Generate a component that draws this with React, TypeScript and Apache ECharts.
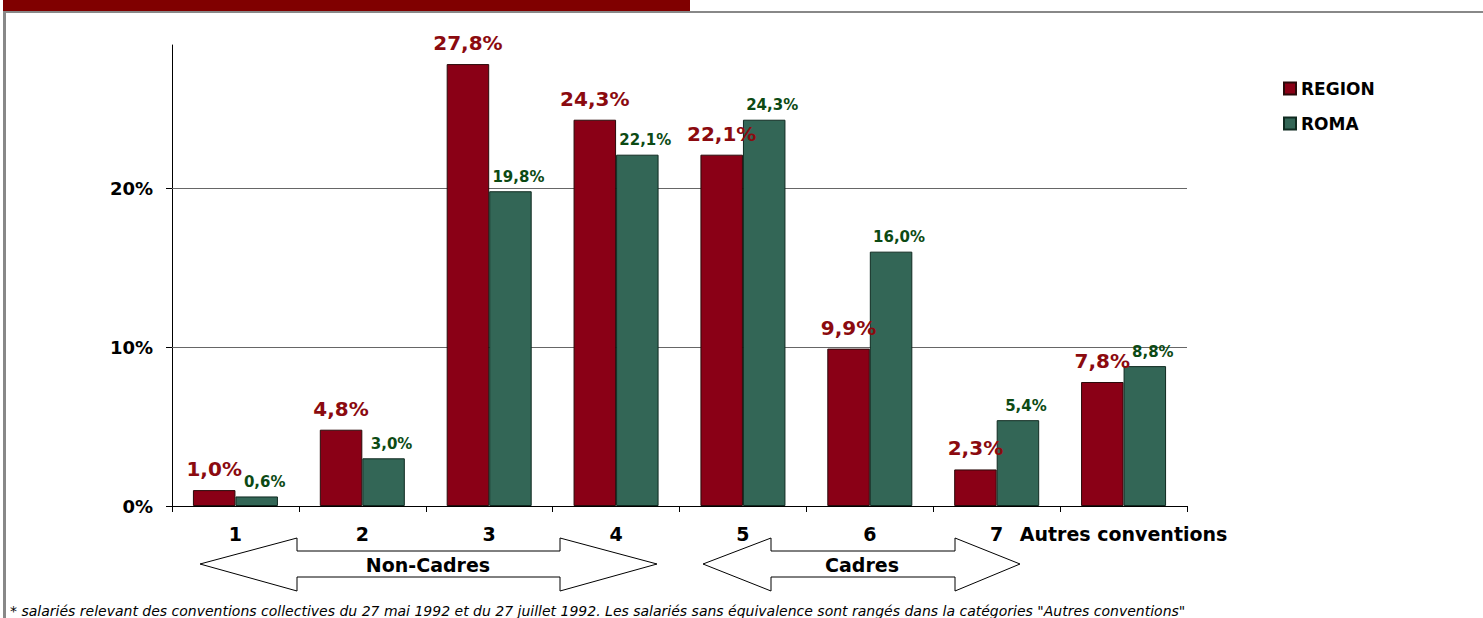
import React, { useEffect, useRef } from "react";
import * as echarts from "echarts";

const categories = ["1", "2", "3", "4", "5", "6", "7", "Autres conventions"];
const regionValues = [1.0, 4.8, 27.8, 24.3, 22.1, 9.9, 2.3, 7.8];
const romaValues = [0.6, 3.0, 19.8, 22.1, 24.3, 16.0, 5.4, 8.8];
const yTicks = [0, 10, 20];
const gridValues = [10, 20];
const footnote =
  '* salariés relevant des conventions collectives du 27 mai 1992 et du 27 juillet 1992. Les salariés sans équivalence sont rangés dans la catégories "Autres conventions"';

const FONT = "DejaVu Sans";
const fmt = (v: number) => v.toFixed(1).replace(".", ",") + "%";

function arrow(x1: number, h1: number, h2: number, x2: number, cy: number) {
  const ht = cy - 26, st = cy - 13, sb = cy + 13, hb = cy + 27;
  return [
    [x1, cy], [h1, ht], [h1, st], [h2, st], [h2, ht],
    [x2, cy], [h2, hb], [h2, sb], [h1, sb], [h1, hb],
  ];
}

export default function App() {
  const ref = useRef<HTMLDivElement>(null);
  useEffect(() => {
    const chart = echarts.init(ref.current!, null, { renderer: "svg" });
    chart.setOption({
      animation: false,
      backgroundColor: "#ffffff",
      textStyle: { fontFamily: FONT },
      grid: { left: 172, right: 296, top: 45, bottom: 112 },
      legend: {
        orient: "vertical",
        left: 1278,
        top: 75,
        itemWidth: 12,
        itemHeight: 12,
        itemGap: 18,
        icon: "rect",
        textStyle: { fontFamily: FONT, fontSize: 17, fontWeight: "bold", color: "#000" },
        data: ["REGION", "ROMA"],
      },
      xAxis: {
        type: "category",
        data: categories,
        axisLine: { lineStyle: { color: "#000", width: 1 } },
        axisTick: { show: true, length: 6, lineStyle: { color: "#000" } },
        axisLabel: {
          fontFamily: FONT,
          fontSize: 19,
          fontWeight: "bold",
          color: "#000",
          margin: 18,
          interval: 0,
        },
      },
      yAxis: {
        type: "value",
        min: 0,
        max: 29,
        interval: 10,
        axisLine: { show: true, lineStyle: { color: "#000", width: 1 } },
        axisTick: { show: true, length: 6, customValues: yTicks, lineStyle: { color: "#000" } },
        splitLine: { show: false },
        axisLabel: {
          customValues: yTicks,
          fontFamily: FONT,
          fontSize: 18,
          fontWeight: "bold",
          color: "#000",
          margin: 19,
          formatter: (v: number) => (v % 10 === 0 ? v + "%" : ""),
        },
      },
      series: [
        {
          name: "REGION",
          type: "bar",
          data: regionValues,
          barGap: "0%",
          barCategoryGap: "33%",
          z: 2,
          itemStyle: { color: "#8a0016", borderColor: "#2a0a0a", borderWidth: 1 },
          label: {
            show: true,
            position: "top",
            distance: 11,
            fontFamily: FONT,
            fontSize: 20,
            fontWeight: "bold",
            color: "#8b0a0f",
            formatter: (p: any) => fmt(p.value),
          },
          markLine: {
            silent: true,
            z: 1,
            symbol: ["none", "none"],
            label: { show: false },
            lineStyle: { color: "#666", width: 1, type: "solid" },
            data: gridValues.map((v) => ({ yAxis: v })),
          },
        },
        {
          name: "ROMA",
          type: "bar",
          data: romaValues,
          z: 2,
          itemStyle: { color: "#336656", borderColor: "#0f2a20", borderWidth: 1 },
          label: {
            show: true,
            position: "top",
            distance: 7,
            offset: [8, 0],
            fontFamily: FONT,
            fontSize: 15,
            fontWeight: "bold",
            color: "#0c4a14",
            formatter: (p: any) => fmt(p.value),
          },
        },
      ],
      graphic: [
        { type: "rect", shape: { x: 3, y: 0, width: 687, height: 11 }, style: { fill: "#800000" }, silent: true },
        { type: "rect", shape: { x: 3, y: 11, width: 1480, height: 2 }, style: { fill: "#888888" }, silent: true },
        { type: "rect", shape: { x: 3, y: 11, width: 3, height: 607 }, style: { fill: "#888888" }, silent: true },
        {
          type: "polygon",
          shape: { points: arrow(200, 297, 560, 657, 564) },
          style: { fill: "#fff", stroke: "#000", lineWidth: 1 },
          silent: true,
        },
        {
          type: "polygon",
          shape: { points: arrow(703, 771, 955, 1020, 564) },
          style: { fill: "#fff", stroke: "#000", lineWidth: 1 },
          silent: true,
        },
        {
          type: "text",
          x: 428,
          y: 565,
          style: {
            text: "Non-Cadres",
            fontFamily: FONT,
            fontSize: 19,
            fontWeight: "bold",
            fill: "#000",
            align: "center",
            verticalAlign: "middle",
          },
          silent: true,
        },
        {
          type: "text",
          x: 862,
          y: 565,
          style: {
            text: "Cadres",
            fontFamily: FONT,
            fontSize: 19,
            fontWeight: "bold",
            fill: "#000",
            align: "center",
            verticalAlign: "middle",
          },
          silent: true,
        },
        {
          type: "text",
          x: 10,
          y: 611,
          style: {
            text: footnote,
            fontFamily: FONT,
            fontSize: 14,
            fontStyle: "italic",
            fill: "#000",
            align: "left",
            verticalAlign: "middle",
          },
          silent: true,
        },
      ],
    });
    return () => chart.dispose();
  }, []);
  return (
    <div
      ref={ref}
      style={{ position: "fixed", left: 0, top: 0, width: 1483, height: 618, background: "#fff" }}
    />
  );
}
